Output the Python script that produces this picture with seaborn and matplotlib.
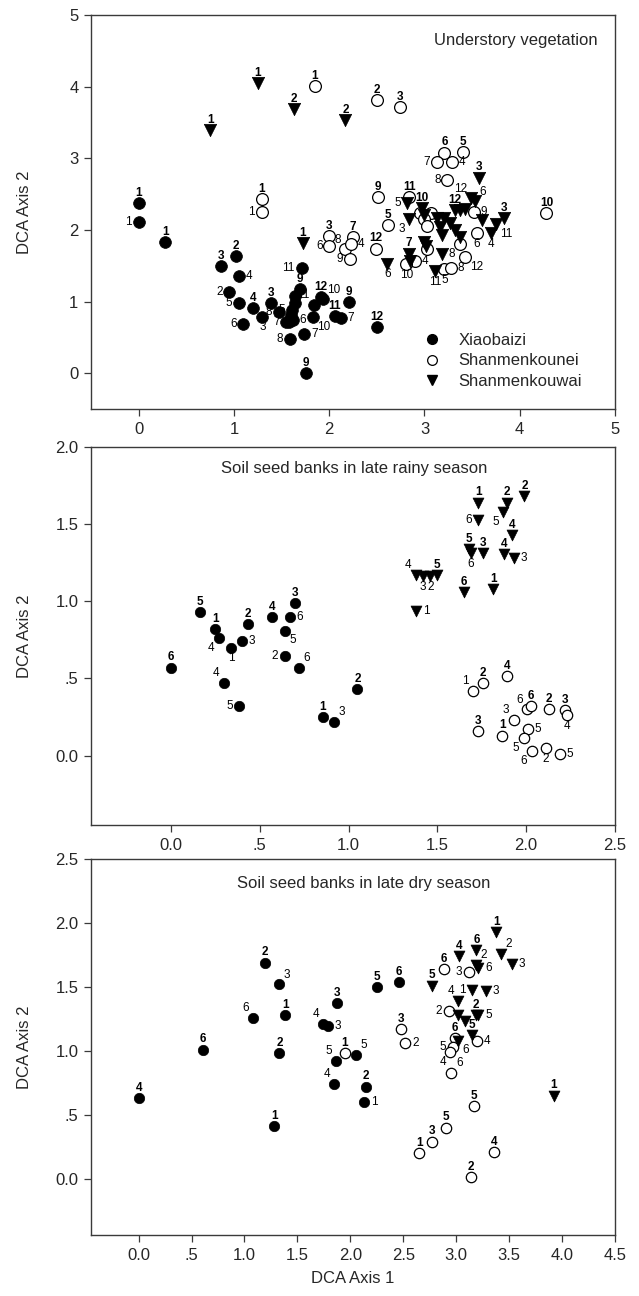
import numpy as np
import pandas as pd
import matplotlib
matplotlib.use('Agg')
import matplotlib.pyplot as plt
import seaborn as sns
from matplotlib.lines import Line2D

# ---------------- DATA ----------------
groups = ['Xiaobaizi', 'Shanmenkounei', 'Shanmenkouwai']

# Panel 1: Understory vegetation
und_xb_x = [0.00, 0.00, 0.28, 0.86, 1.02, 1.05, 0.95, 1.05, 1.10, 1.20, 1.39, 1.30, 1.47, 1.69, 1.64, 1.64,
            1.61, 1.60, 1.62, 1.55, 1.58, 1.59, 1.74, 1.76, 1.71, 1.91, 1.93, 1.84, 1.83, 2.06, 2.12, 2.21, 2.50]
und_xb_y = [2.37, 2.11, 1.83, 1.50, 1.63, 1.35, 1.13, 0.98, 0.69, 0.91, 0.98, 0.79, 0.86, 1.17, 1.08, 0.98,
            0.88, 0.81, 0.74, 0.72, 0.71, 0.48, 0.54, 0.00, 1.47, 1.06, 1.03, 0.95, 0.78, 0.80, 0.77, 0.99, 0.64]
und_xb_lab = ['1', '1', '1', '3', '2', '4', '2', '5', '6', '4', '3', '3', '8', '9', '', '',
              '5', '', '6', '7', '', '8', '7', '9', '11', '12', '10', '11', '10', '11', '7', '9', '12']
und_xb_pos = ['n', 'w', 'n', 'n', 'n', 'e', 'w', 'w', 'w', 'n', 'n', 's', 'w', 'n', 'n', 'n',
              'w', 'n', 'e', 'w', 'n', 'w', 'e', 'n', 'w', 'n', 'ne', 'nw', 'se', 'n', 'e', 'n', 'n']

und_sn_x = [1.85, 1.29, 1.29, 2.50, 2.74, 2.00, 2.00, 2.25, 2.17, 2.23, 2.22, 3.21, 3.40, 3.13, 3.29, 3.24,
            2.51, 2.84, 2.95, 3.07, 2.99, 3.03, 3.52, 2.62, 2.49, 3.55, 3.37, 3.03, 3.43, 2.90, 2.81, 3.21, 3.28, 4.28]
und_sn_y = [4.01, 2.43, 2.25, 3.81, 3.72, 1.91, 1.77, 1.90, 1.73, 1.80, 1.59, 3.08, 3.09, 2.95, 2.95, 2.70,
            2.46, 2.46, 2.23, 2.23, 2.15, 2.06, 2.25, 2.07, 1.74, 1.96, 1.81, 1.74, 1.62, 1.56, 1.52, 1.45, 1.47, 2.24]
und_sn_lab = ['1', '1', '1', '2', '3', '3', '6', '7', '8', '4', '9', '6', '5', '7', '4', '8',
              '9', '11', '', '', '', '', '9', '5', '12', '6', '', '', '12', '4', '10', '5', '8', '10']
und_sn_pos = ['n', 'n', 'w', 'n', 'n', 'n', 'w', 'n', 'nw', 'e', 'w', 'n', 'n', 'w', 'e', 'w',
              'n', 'n', 'n', 'n', 'n', 'n', 'e', 'n', 'n', 's', 'n', 'n', 'se', 'e', 's', 's', 'e', 'n']

und_sw_x = [0.75, 1.25, 1.63, 2.17, 1.72, 3.57, 3.49, 3.53, 2.82, 2.97, 3.00, 3.32, 3.37, 3.43, 3.13, 3.21,
            2.84, 3.16, 3.18, 3.27, 3.32, 3.37, 3.60, 3.83, 3.75, 3.70, 3.00, 3.02, 3.18, 2.84, 2.85, 2.61, 3.11]
und_sw_y = [3.39, 4.05, 3.69, 3.53, 1.82, 2.73, 2.44, 2.40, 2.38, 2.30, 2.21, 2.28, 2.28, 2.29, 2.16, 2.16,
            2.15, 2.04, 1.93, 2.09, 2.00, 1.90, 2.14, 2.16, 2.08, 1.96, 1.83, 1.77, 1.67, 1.67, 1.56, 1.53, 1.42]
und_sw_lab = ['1', '1', '2', '2', '1', '3', '12', '6', '5', '10', '', '12', '', '', '', '',
              '3', '', '', '', '', '', '', '3', '11', '4', '', '', '8', '7', '', '6', '11']
und_sw_pos = ['n', 'n', 'n', 'n', 'n', 'n', 'nw', 'ne', 'w', 'n', 'n', 'n', 'n', 'n', 'n', 'n',
              'sw', 'n', 'n', 'n', 'n', 'n', 'n', 'n', 'se', 's', 'n', 'n', 'e', 'n', 'n', 's', 's']

# Panel 2: Soil seed banks in late rainy season
rain_xb_x = [0.163, 0.25, 0.27, 0.34, 0.40, 0.435, 0.57, 0.67, 0.70, 0.64, 0.64, 0.72, 0.00, 0.30, 0.385, 0.855, 0.92, 1.05]
rain_xb_y = [0.93, 0.82, 0.76, 0.70, 0.74, 0.85, 0.90, 0.90, 0.99, 0.81, 0.645, 0.57, 0.57, 0.47, 0.32, 0.25, 0.22, 0.43]
rain_xb_lab = ['5', '1', '4', '1', '3', '2', '4', '6', '3', '5', '2', '6', '6', '4', '5', '1', '3', '2']
rain_xb_pos = ['n', 'n', 'sw', 's', 'e', 'n', 'n', 'e', 'n', 'se', 'w', 'ne', 'n', 'nw', 'w', 'n', 'ne', 'n']

rain_sn_x = [1.70, 1.755, 1.89, 1.73, 1.865, 1.93, 2.005, 2.025, 2.01, 1.985, 2.03, 2.11, 2.19, 2.13, 2.22, 2.23]
rain_sn_y = [0.42, 0.47, 0.515, 0.16, 0.13, 0.23, 0.30, 0.32, 0.17, 0.115, 0.027, 0.05, 0.008, 0.30, 0.295, 0.26]
rain_sn_lab = ['1', '2', '4', '3', '1', '3', '6', '6', '5', '5', '6', '2', '5', '2', '3', '4']
rain_sn_pos = ['nw', 'n', 'n', 'n', 'n', 'nw', 'nw', 'n', 'e', 'sw', 'sw', 's', 'e', 'n', 'n', 's']

rain_sw_x = [1.73, 1.89, 1.99, 1.87, 1.73, 1.92, 1.68, 1.69, 1.755, 1.875, 1.93, 1.38, 1.42, 1.46, 1.50, 1.65, 1.815, 1.38]
rain_sw_y = [1.64, 1.64, 1.68, 1.58, 1.53, 1.43, 1.34, 1.31, 1.31, 1.305, 1.28, 1.17, 1.165, 1.165, 1.17, 1.06, 1.08, 0.94]
rain_sw_lab = ['1', '2', '2', '5', '6', '4', '5', '6', '3', '4', '3', '4', '3', '2', '5', '6', '1', '1']
rain_sw_pos = ['n', 'n', 'n', 'sw', 'w', 'n', 'n', 's', 'n', 'n', 'e', 'nw', 's', 's', 'n', 'n', 'n', 'e']

# Panel 3: Soil seed banks in late dry season
dry_xb_x = [1.19, 1.325, 1.08, 1.385, 1.745, 1.79, 1.875, 0.61, 1.33, 0.00, 1.28, 1.865, 2.05, 1.85, 2.15, 2.13, 2.25, 2.455]
dry_xb_y = [1.69, 1.52, 1.26, 1.28, 1.21, 1.195, 1.375, 1.01, 0.98, 0.63, 0.41, 0.92, 0.97, 0.74, 0.72, 0.60, 1.50, 1.535]
dry_xb_lab = ['2', '3', '6', '1', '4', '3', '3', '6', '2', '4', '1', '5', '5', '4', '2', '1', '5', '6']
dry_xb_pos = ['n', 'ne', 'nw', 'n', 'nw', 'e', 'n', 'n', 'n', 'n', 'n', 'nw', 'ne', 'nw', 'n', 'e', 'n', 'n']

dry_sn_x = [1.945, 2.48, 2.52, 2.88, 3.12, 2.93, 2.99, 2.97, 2.945, 3.20, 2.955, 3.17, 2.90, 2.77, 2.65, 3.36, 3.14]
dry_sn_y = [0.98, 1.17, 1.065, 1.64, 1.615, 1.31, 1.10, 1.03, 0.99, 1.08, 0.83, 0.565, 0.40, 0.29, 0.20, 0.21, 0.01]
dry_sn_lab = ['1', '3', '2', '6', '3', '2', '6', '5', '4', '4', '6', '5', '5', '3', '1', '4', '2']
dry_sn_pos = ['n', 'n', 'e', 'n', 'w', 'w', 'n', 'w', 'sw', 'e', 'ne', 'n', 'n', 'n', 'n', 'n', 'n']

dry_sw_x = [3.38, 3.19, 3.03, 3.42, 3.53, 3.19, 3.21, 2.775, 3.15, 3.28, 3.02, 3.02, 3.08, 3.19, 3.21, 3.15, 3.015, 3.92]
dry_sw_y = [1.93, 1.79, 1.74, 1.76, 1.68, 1.67, 1.645, 1.51, 1.475, 1.47, 1.39, 1.28, 1.23, 1.28, 1.28, 1.12, 1.08, 0.65]
dry_sw_lab = ['1', '6', '4', '2', '3', '2', '6', '5', '1', '3', '4', '', '', '2', '5', '5', '6', '1']
dry_sw_pos = ['n', 'n', 'n', 'ne', 'e', 'ne', 'e', 'n', 'w', 'e', 'nw', 'n', 'n', 'n', 'e', 'n', 'se', 'n']

# Axis ticks
und_xticks = [0, 1, 2, 3, 4, 5]
und_xticklabels = ['0', '1', '2', '3', '4', '5']
und_yticks = [0, 1, 2, 3, 4, 5]
und_yticklabels = ['0', '1', '2', '3', '4', '5']
rain_xticks = [0.0, 0.5, 1.0, 1.5, 2.0, 2.5]
rain_xticklabels = ['0.0', '.5', '1.0', '1.5', '2.0', '2.5']
rain_yticks = [0.0, 0.5, 1.0, 1.5, 2.0]
rain_yticklabels = ['0.0', '.5', '1.0', '1.5', '2.0']
dry_xticks = [0.0, 0.5, 1.0, 1.5, 2.0, 2.5, 3.0, 3.5, 4.0, 4.5]
dry_xticklabels = ['0.0', '.5', '1.0', '1.5', '2.0', '2.5', '3.0', '3.5', '4.0', '4.5']
dry_yticks = [0.0, 0.5, 1.0, 1.5, 2.0, 2.5]
dry_yticklabels = ['0.0', '.5', '1.0', '1.5', '2.0', '2.5']

titles = ['Understory vegetation', 'Soil seed banks in late rainy season', 'Soil seed banks in late dry season']

# ---------------- STYLE ----------------
sns.set_style('white')
plt.rcParams['font.family'] = ['Liberation Sans', 'DejaVu Sans']

fig = plt.figure(figsize=(6.39, 12.96), dpi=100)
L, R = 91 / 639, 615 / 639
H = 1296.0
boxes = [(15, 409), (447, 825), (859, 1235)]
axes = []
for top, bot in boxes:
    axes.append(fig.add_axes([L, 1 - bot / H, R - L, (bot - top) / H]))


def make_df(xs, ys, labs, poss, g):
    return pd.DataFrame({'x': xs, 'y': ys, 'lab': labs, 'pos': poss, 'group': g})


panels = [
    [make_df(und_xb_x, und_xb_y, und_xb_lab, und_xb_pos, groups[0]),
     make_df(und_sn_x, und_sn_y, und_sn_lab, und_sn_pos, groups[1]),
     make_df(und_sw_x, und_sw_y, und_sw_lab, und_sw_pos, groups[2])],
    [make_df(rain_xb_x, rain_xb_y, rain_xb_lab, rain_xb_pos, groups[0]),
     make_df(rain_sn_x, rain_sn_y, rain_sn_lab, rain_sn_pos, groups[1]),
     make_df(rain_sw_x, rain_sw_y, rain_sw_lab, rain_sw_pos, groups[2])],
    [make_df(dry_xb_x, dry_xb_y, dry_xb_lab, dry_xb_pos, groups[0]),
     make_df(dry_sn_x, dry_sn_y, dry_sn_lab, dry_sn_pos, groups[1]),
     make_df(dry_sw_x, dry_sw_y, dry_sw_lab, dry_sw_pos, groups[2])],
]

limits = [((-0.5, 5.0), (-0.5, 5.0)), ((-0.45, 2.5), (-0.45, 2.0)), ((-0.45, 4.5), (-0.44, 2.5))]
ticks = [(und_xticks, und_xticklabels, und_yticks, und_yticklabels),
         (rain_xticks, rain_xticklabels, rain_yticks, rain_yticklabels),
         (dry_xticks, dry_xticklabels, dry_yticks, dry_yticklabels)]
title_pos = [(0.967, 0.935, 'right'), (0.503, 0.942, 'center'), (0.52, 0.936, 'center')]
msizes = [72, 56, 56]

offs = {'n': (0, 3.0, 'center', 'bottom'), 's': (0, -3.5, 'center', 'top'),
        'e': (4.8, 0, 'left', 'center'), 'w': (-4.8, 0, 'right', 'center'),
        'ne': (3.2, 2.7, 'left', 'bottom'), 'nw': (-3.2, 2.7, 'right', 'bottom'),
        'se': (3.2, -2.7, 'left', 'top'), 'sw': (-3.2, -2.7, 'right', 'top')}

spine_c = '#3a3a3a'
for i, ax in enumerate(axes):
    dfs = panels[i]
    s = msizes[i]
    sns.scatterplot(data=dfs[0], x='x', y='y', ax=ax, marker='o', s=s, color='black',
                    edgecolor='black', linewidth=0.5, legend=False, zorder=3)
    sns.scatterplot(data=dfs[1], x='x', y='y', ax=ax, marker='o', s=s, color='white',
                    edgecolor='black', linewidth=0.9, legend=False, zorder=3)
    sns.scatterplot(data=dfs[2], x='x', y='y', ax=ax, marker='v', s=s * 1.1, color='black',
                    edgecolor='black', linewidth=0.5, legend=False, zorder=3)
    for d in dfs:
        for _, r in d.iterrows():
            if r['lab'] == '':
                continue
            dx, dy, ha, va = offs[r['pos']]
            wt = 'bold' if r['pos'] == 'n' else 'normal'
            ax.annotate(r['lab'], (r['x'], r['y']), xytext=(dx, dy), textcoords='offset points',
                        ha=ha, va=va, fontsize=8.5, fontweight=wt, color='black', zorder=4)
    (xl, yl) = limits[i]
    ax.set_xlim(*xl)
    ax.set_ylim(*yl)
    xt, xtl, yt, ytl = ticks[i]
    ax.set_xticks(xt)
    ax.set_xticklabels(xtl)
    ax.set_yticks(yt)
    ax.set_yticklabels(ytl)
    ax.tick_params(axis='both', which='both', direction='out', length=5, width=0.9,
                   color=spine_c, labelsize=12, pad=4, bottom=True, left=True, top=False, right=False)
    for sp in ax.spines.values():
        sp.set_color(spine_c)
        sp.set_linewidth(1.0)
        sp.set_visible(True)
    ax.set_xlabel('')
    ax.set_ylabel('DCA Axis 2', fontsize=12, labelpad=6)
    tx, ty, tha = title_pos[i]
    ax.text(tx, ty, titles[i], transform=ax.transAxes, ha=tha, va='center', fontsize=12)

for ax in axes:
    ax.yaxis.set_label_coords(-0.113, 0.5)

axes[2].set_xlabel('DCA Axis 1', fontsize=12, labelpad=6)

handles = [Line2D([], [], marker='o', linestyle='', markersize=7, markerfacecolor='black', markeredgecolor='black'),
           Line2D([], [], marker='o', linestyle='', markersize=7, markerfacecolor='white', markeredgecolor='black', markeredgewidth=0.9),
           Line2D([], [], marker='v', linestyle='', markersize=7, markerfacecolor='black', markeredgecolor='black')]
axes[0].legend(handles, groups, loc='upper left', bbox_to_anchor=(0.615, 0.215), frameon=False,
               fontsize=12, handlelength=1.2, handletextpad=1.0, labelspacing=0.35, borderpad=0)

fig.savefig('out.png', dpi=100)
